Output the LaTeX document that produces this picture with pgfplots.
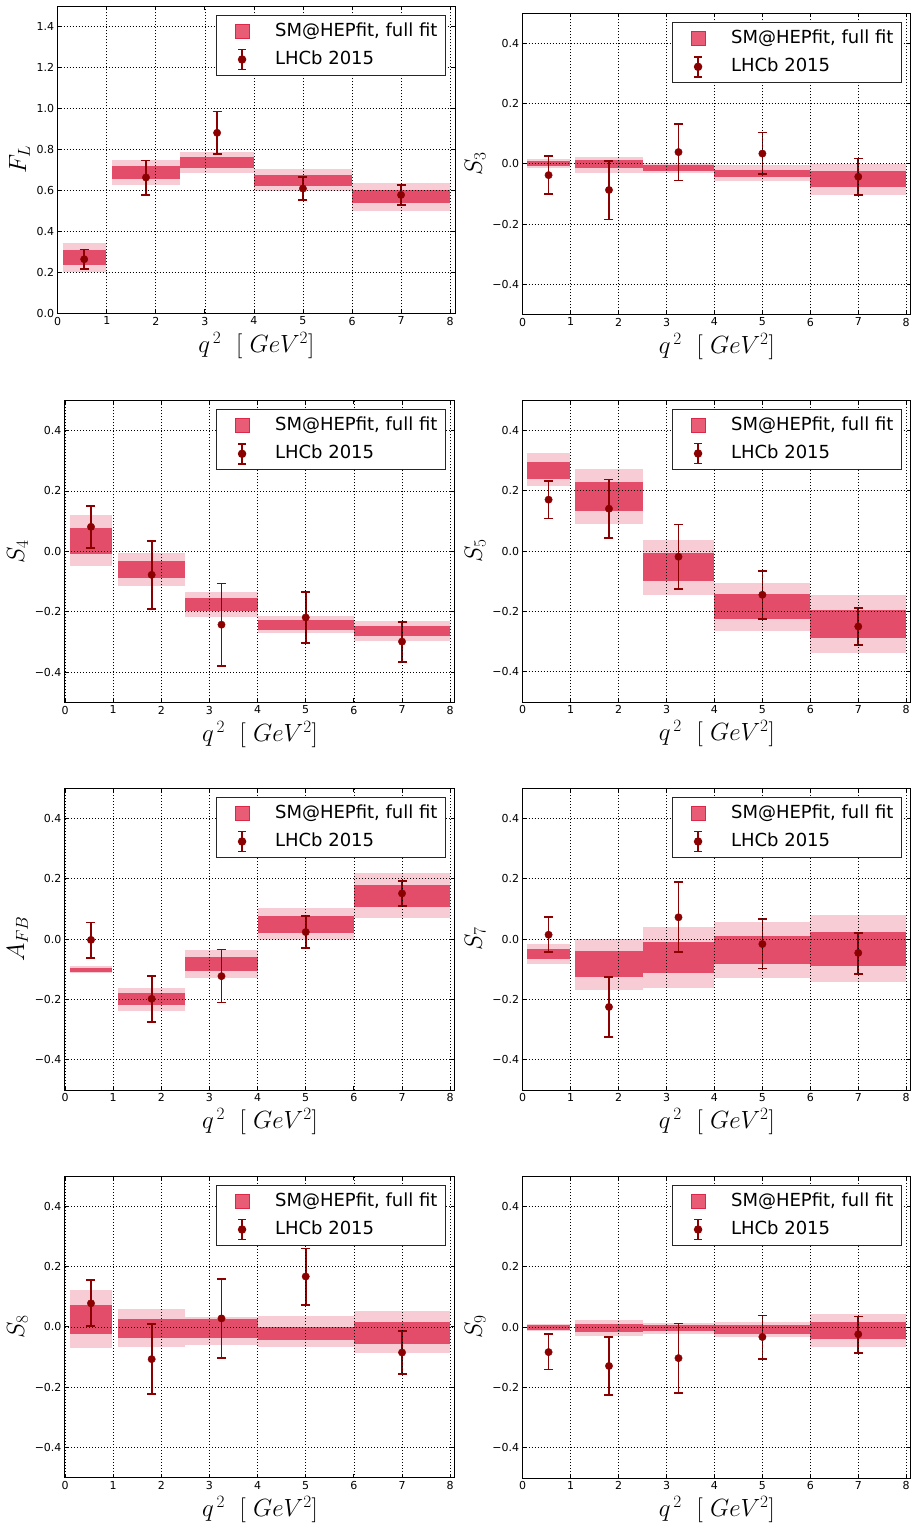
\documentclass[border=0pt]{standalone}
\usepackage[no-math]{fontspec}
\setmainfont{DejaVu Sans}
\usepackage{pgfplots}
\pgfplotsset{compat=1.18}

\definecolor{bandlight}{RGB}{247,204,213}
\definecolor{banddark}{RGB}{227,77,106}
\definecolor{bandleg}{RGB}{233,92,118}
\definecolor{bandedge}{RGB}{220,40,72}
\definecolor{lhcb}{RGB}{139,0,0}

% one q^2 bin: xlo xhi, light band lo hi, dark band lo hi
\newcommand\bin[6]{%
  \addplot[fill=bandlight, draw=none, forget plot] coordinates {(#1,#3) (#2,#3) (#2,#4) (#1,#4)};
  \addplot[fill=banddark, draw=none, forget plot] coordinates {(#1,#5) (#2,#5) (#2,#6) (#1,#6)};
}

\pgfplotsset{
  panel/.style={
    scale only axis, axis on top,
    anchor=south west,
    xmin=0, xmax=8.1,
    xtick={0,1,2,3,4,5,6,7,8}, xticklabels={0,1,2,3,4,5,6,7,8},
    grid=major,
    grid style={black, line width=0.7pt, dash pattern=on 1pt off 2pt},
    axis line style={line width=1pt},
    every tick/.style={black, line width=0.8pt},
    major tick length=4pt,
    tick label style={font=\fontsize{11}{13}\selectfont},
    label style={font=\fontsize{23}{26}\selectfont},
    xlabel={$q^{\,2}\ \ [\ GeV^{2}]$},
    legend style={at={(1,1)}, anchor=north east, xshift=-9pt, yshift=-9pt,
      draw=black!85, line width=1pt, fill=white,
      inner xsep=8pt, inner ysep=8pt, row sep=12pt,
      font=\fontsize{18}{20}\selectfont,
      nodes={inner sep=0pt, text height=13pt, text depth=3pt},
      cells={anchor=west}},
  },
  pm/.style={ymin=-0.5, ymax=0.5,
    ytick={-0.4,-0.2,0,0.2,0.4},
    yticklabels={−0.4,−0.2,0.0,0.2,0.4}},
  lhcbpts/.style={lhcb, only marks, mark=*, mark size=3.7pt,
    mark options={fill=lhcb, draw=lhcb}, forget plot,
    error bars/.cd, y dir=both, y explicit,
    error bar style={line width=1.7pt, lhcb},
    error mark options={rotate=90, mark size=4.5pt, line width=1.7pt, lhcb}},
}

\newcommand\leg{%
  \addlegendimage{legend image code/.code={
    \path[draw=none, fill=none] (0pt,-6pt) rectangle (51pt,6pt);
    \draw[overlay, fill=bandleg, draw=bandedge, line width=0.8pt] (11pt,-7pt) rectangle (25pt,7pt);}}
  \addlegendentry{SM@HEPfit, full fit}
  \addlegendimage{legend image code/.code={
    \path[draw=none, fill=none] (0pt,-6pt) rectangle (51pt,6pt);
    \draw[overlay, lhcb, line width=1.7pt] (18pt,-10pt) -- (18pt,10pt)
      (14pt,-10pt) -- (22pt,-10pt) (14pt,10pt) -- (22pt,10pt);
    \fill[overlay, lhcb] (18pt,0pt) circle (3.7pt);}}
  \addlegendentry{LHCb 2015}
}

\begin{document}
\begin{tikzpicture}
\useasboundingbox (0pt,0pt) rectangle (913pt,-1529pt);

% F_L
\begin{axis}[panel, at={(57.7pt,-313.3pt)}, width=397.3pt, height=307.3pt,
  ymin=0, ymax=1.5, ytick={0,0.2,0.4,0.6,0.8,1.0,1.2,1.4},
  yticklabels={0.0,0.2,0.4,0.6,0.8,1.0,1.2,1.4}, ylabel={$F_L$}]
\leg
\bin{0.1}{0.98}{0.2035}{0.342}{0.236}{0.309}
\bin{1.1}{2.5}{0.627}{0.749}{0.656}{0.720}
\bin{2.5}{4}{0.687}{0.786}{0.708}{0.765}
\bin{4}{6}{0.599}{0.703}{0.622}{0.676}
\bin{6}{8}{0.501}{0.636}{0.536}{0.601}
\addplot[lhcbpts] coordinates {
  (0.54,0.264) += (0,0.047) -= (0,0.049)
  (1.8,0.663) += (0,0.083) -= (0,0.085)
  (3.25,0.881) += (0,0.104) -= (0,0.104)
  (5,0.609) += (0,0.055) -= (0,0.056)
  (7,0.578) += (0,0.049) -= (0,0.049)
};
\end{axis}

% S_3
\begin{axis}[panel, pm, at={(522.7pt,-314.3pt)}, width=388.3pt, height=301pt, ylabel={$S_3$}]
\leg
\bin{0.1}{0.98}{-0.0144}{0.0166}{-0.0077}{0.0077}
\bin{1.1}{2.5}{-0.029}{0.024}{-0.013}{0.011}
\bin{2.5}{4}{-0.032}{0.003}{-0.025}{-0.0044}
\bin{4}{6}{-0.057}{-0.0055}{-0.045}{-0.019}
\bin{6}{8}{-0.105}{0.0}{-0.078}{-0.025}
\addplot[lhcbpts] coordinates {
  (0.54,-0.0376) += (0,0.063) -= (0,0.062)
  (1.8,-0.087) += (0,0.096) -= (0,0.098)
  (3.25,0.039) += (0,0.094) -= (0,0.094)
  (5,0.034) += (0,0.070) -= (0,0.069)
  (7,-0.043) += (0,0.061) -= (0,0.061)
};
\end{axis}

% S_4
\begin{axis}[panel, pm, at={(65pt,-702.3pt)}, width=390pt, height=302pt, ylabel={$S_4$}]
\leg
\bin{0.1}{0.98}{-0.049}{0.120}{-0.009}{0.077}
\bin{1.1}{2.5}{-0.115}{-0.0055}{-0.088}{-0.032}
\bin{2.5}{4}{-0.217}{-0.135}{-0.197}{-0.155}
\bin{4}{6}{-0.271}{-0.214}{-0.259}{-0.228}
\bin{6}{8}{-0.297}{-0.231}{-0.281}{-0.248}
\addplot[lhcbpts] coordinates {
  (0.54,0.081) += (0,0.070) -= (0,0.071)
  (1.8,-0.078) += (0,0.112) -= (0,0.113)
  (3.25,-0.243) += (0,0.136) -= (0,0.137)
  (5,-0.219) += (0,0.085) -= (0,0.085)
  (7,-0.299) += (0,0.066) -= (0,0.067)
};
\end{axis}

% S_5
\begin{axis}[panel, pm, at={(522.7pt,-702pt)}, width=388.3pt, height=302pt, ylabel={$S_5$}]
\leg
\bin{0.1}{0.98}{0.214}{0.323}{0.239}{0.296}
\bin{1.1}{2.5}{0.088}{0.273}{0.134}{0.228}
\bin{2.5}{4}{-0.147}{0.036}{-0.100}{-0.0077}
\bin{4}{6}{-0.266}{-0.105}{-0.226}{-0.143}
\bin{6}{8}{-0.337}{-0.147}{-0.289}{-0.194}
\addplot[lhcbpts] coordinates {
  (0.54,0.170) += (0,0.061) -= (0,0.062)
  (1.8,0.140) += (0,0.097) -= (0,0.098)
  (3.25,-0.019) += (0,0.107) -= (0,0.107)
  (5,-0.145) += (0,0.078) -= (0,0.079)
  (7,-0.250) += (0,0.062) -= (0,0.061)
};
\end{axis}

% A_FB
\begin{axis}[panel, pm, at={(65pt,-1090pt)}, width=390pt, height=302pt, ylabel={$A_{FB}$}]
\leg
\bin{0.1}{0.98}{-0.114}{-0.0895}{-0.108}{-0.095}
\bin{1.1}{2.5}{-0.238}{-0.161}{-0.218}{-0.178}
\bin{2.5}{4}{-0.128}{-0.035}{-0.105}{-0.059}
\bin{4}{6}{-0.002}{0.103}{0.021}{0.077}
\bin{6}{8}{0.071}{0.217}{0.107}{0.180}
\addplot[lhcbpts] coordinates {
  (0.54,-0.003) += (0,0.058) -= (0,0.059)
  (1.8,-0.198) += (0,0.076) -= (0,0.076)
  (3.25,-0.123) += (0,0.088) -= (0,0.087)
  (5,0.023) += (0,0.053) -= (0,0.052)
  (7,0.151) += (0,0.041) -= (0,0.041)
};
\end{axis}

% S_7
\begin{axis}[panel, pm, at={(522.7pt,-1090pt)}, width=388.3pt, height=302pt, ylabel={$S_7$}]
\leg
\bin{0.1}{0.98}{-0.082}{-0.0166}{-0.065}{-0.032}
\bin{1.1}{2.5}{-0.168}{0.0}{-0.125}{-0.039}
\bin{2.5}{4}{-0.161}{0.040}{-0.112}{-0.0088}
\bin{4}{6}{-0.128}{0.056}{-0.082}{0.010}
\bin{6}{8}{-0.141}{0.080}{-0.088}{0.024}
\addplot[lhcbpts] coordinates {
  (0.54,0.014) += (0,0.060) -= (0,0.058)
  (1.8,-0.225) += (0,0.100) -= (0,0.099)
  (3.25,0.072) += (0,0.116) -= (0,0.116)
  (5,-0.0166) += (0,0.082) -= (0,0.081)
  (7,-0.046) += (0,0.067) -= (0,0.069)
};
\end{axis}

% S_8
\begin{axis}[panel, pm, at={(65pt,-1477.7pt)}, width=390pt, height=301.7pt, ylabel={$S_8$}]
\leg
\bin{0.1}{0.98}{-0.070}{0.123}{-0.023}{0.073}
\bin{1.1}{2.5}{-0.066}{0.060}{-0.036}{0.027}
\bin{2.5}{4}{-0.060}{0.033}{-0.036}{0.025}
\bin{4}{6}{-0.066}{0.036}{-0.043}{0.0}
\bin{6}{8}{-0.088}{0.053}{-0.056}{0.017}
\addplot[lhcbpts] coordinates {
  (0.54,0.078) += (0,0.078) -= (0,0.075)
  (1.8,-0.107) += (0,0.117) -= (0,0.116)
  (3.25,0.028) += (0,0.131) -= (0,0.131)
  (5,0.167) += (0,0.093) -= (0,0.094)
  (7,-0.085) += (0,0.072) -= (0,0.071)
};
\end{axis}

% S_9
\begin{axis}[panel, pm, at={(522.7pt,-1478pt)}, width=388.3pt, height=302pt, ylabel={$S_9$}]
\leg
\bin{0.1}{0.98}{-0.013}{0.011}{-0.0088}{0.0066}
\bin{1.1}{2.5}{-0.029}{0.023}{-0.017}{0.011}
\bin{2.5}{4}{-0.022}{0.012}{-0.013}{0.0066}
\bin{4}{6}{-0.032}{0.017}{-0.023}{0.0066}
\bin{6}{8}{-0.065}{0.043}{-0.040}{0.017}
\addplot[lhcbpts] coordinates {
  (0.54,-0.083) += (0,0.059) -= (0,0.058)
  (1.8,-0.129) += (0,0.096) -= (0,0.096)
  (3.25,-0.103) += (0,0.115) -= (0,0.115)
  (5,-0.033) += (0,0.071) -= (0,0.072)
  (7,-0.024) += (0,0.059) -= (0,0.061)
};
\end{axis}
\end{tikzpicture}
\end{document}
